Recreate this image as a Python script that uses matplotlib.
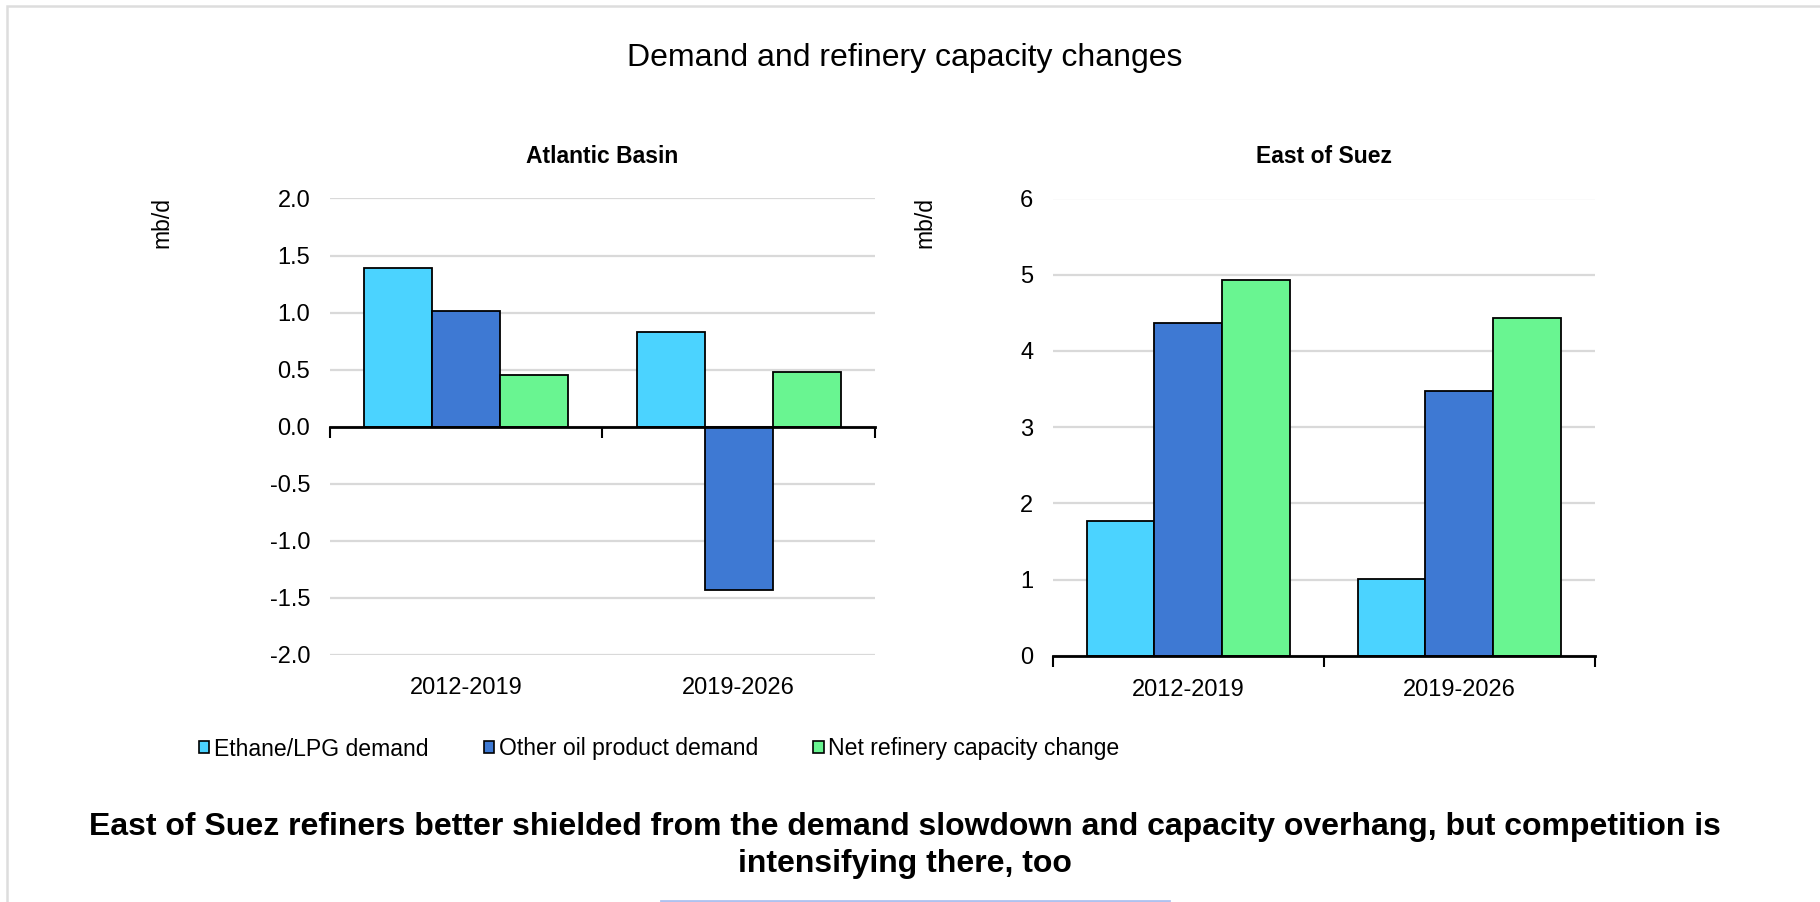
import matplotlib
matplotlib.use('Agg')  # sin pantalla
import matplotlib.pyplot as plt
from matplotlib.patches import Patch, Rectangle
from matplotlib.lines import Line2D
import numpy as np

plt.rcParams['font.family'] = ['Liberation Sans', 'DejaVu Sans']

# Datos (mb/d)
periodos = ['2012-2019', '2019-2026']
series = ['Ethane/LPG demand', 'Other oil product demand', 'Net refinery capacity change']
colores = ['#4BD3FF', '#3E79D3', '#69F591']

atlantic_ethane = [1.39, 0.83]
atlantic_otros = [1.01, -1.43]
atlantic_neta = [0.45, 0.48]

suez_ethane = [1.77, 1.01]
suez_otros = [4.37, 3.47]
suez_neta = [4.93, 4.43]

atlantic_ticks = [-2.0, -1.5, -1.0, -0.5, 0.0, 0.5, 1.0, 1.5, 2.0]
suez_ticks = [0, 1, 2, 3, 4, 5, 6]

W, H = 1820, 902
fig = plt.figure(figsize=(W / 100, H / 100), dpi=100)


def caja(x0, x1, y_top, y_bot):
    """Convierte pixeles a coordenadas de figura"""
    return [x0 / W, 1 - y_bot / H, (x1 - x0) / W, (y_bot - y_top) / H]


def dibujar_panel(ax, valores, ticks, fmt, titulo, ancho=0.25):
    x = np.arange(len(periodos))
    for i, (vals, col) in enumerate(zip(valores, colores)):
        ax.bar(x + (i - 1) * ancho, vals, ancho, color=col, edgecolor='black',
               linewidth=1.3, zorder=3)
    ax.set_xlim(-0.5, len(periodos) - 0.5)
    ax.set_ylim(ticks[0], ticks[-1])
    ax.set_yticks(ticks)
    ax.set_yticklabels([fmt.format(t) for t in ticks])
    ax.grid(axis='y', color='#D9D9D9', linewidth=1.6, zorder=0)
    ax.set_axisbelow(True)
    for s in ['left', 'right', 'top']:
        ax.spines[s].set_visible(False)
    ax.spines['bottom'].set_position(('data', 0))
    ax.spines['bottom'].set_linewidth(2)
    ax.spines['bottom'].set_zorder(4)
    # marcas de categoria en los limites
    ax.set_xticks(np.arange(len(periodos) + 1) - 0.5, minor=True)
    ax.set_xticks([])
    ax.tick_params(axis='x', which='minor', direction='out', length=8, width=1.5,
                   labelbottom=False)
    ax.tick_params(axis='y', length=0, pad=14, labelsize=17)
    for xi, p in zip(x, periodos):
        ax.text(xi, -0.05, p, transform=ax.get_xaxis_transform(), ha='center',
                va='top', fontsize=17)
    ax.set_title(titulo, fontsize=16.5, fontweight='bold', pad=25.5)


ax1 = fig.add_axes(caja(329.6, 875.2, 198.5, 654.6))
dibujar_panel(ax1, [atlantic_ethane, atlantic_otros, atlantic_neta],
              atlantic_ticks, '{:.1f}', 'Atlantic Basin')
ax2 = fig.add_axes(caja(1052.7, 1594.8, 198.5, 655.8))
dibujar_panel(ax2, [suez_ethane, suez_otros, suez_neta],
              suez_ticks, '{:d}', 'East of Suez')

# etiquetas de unidades
fig.text(162 / W, 1 - 222 / H, 'mb/d', rotation=90, ha='center', va='center', fontsize=16.5)
fig.text(925 / W, 1 - 222 / H, 'mb/d', rotation=90, ha='center', va='center', fontsize=16.5)

fig.text(905 / W, 1 - 58 / H, 'Demand and refinery capacity changes',
         ha='center', va='center', fontsize=23)

handles = [Patch(facecolor=c, edgecolor='black', linewidth=1.2) for c in colores]
fig.legend(handles, series, loc='center left', bbox_to_anchor=(199 / W, 1 - 749 / H),
           ncol=3, frameon=False, fontsize=16.6, handlelength=0.45, handleheight=0.45,
           handletextpad=0.2, columnspacing=2.4, borderaxespad=0, borderpad=0)

fig.text(905 / W, 1 - 827 / H,
         'East of Suez refiners better shielded from the demand slowdown and capacity overhang, but competition is',
         ha='center', va='center', fontsize=23, fontweight='bold')
fig.text(905 / W, 1 - 864 / H, 'intensifying there, too',
         ha='center', va='center', fontsize=23, fontweight='bold')

# marco exterior y linea inferior
fig.add_artist(Rectangle((7 / W, -0.1), 1.2, 1 - 6 / H + 0.1, transform=fig.transFigure,
                         fill=False, edgecolor='#DDDDDD', linewidth=1.8))
fig.add_artist(Line2D([661 / W, 1169 / W], [1 - 900.5 / H, 1 - 900.5 / H],
                      color='#AEC2F0', linewidth=2))

plt.savefig('out.png', dpi=100)
plt.close()
